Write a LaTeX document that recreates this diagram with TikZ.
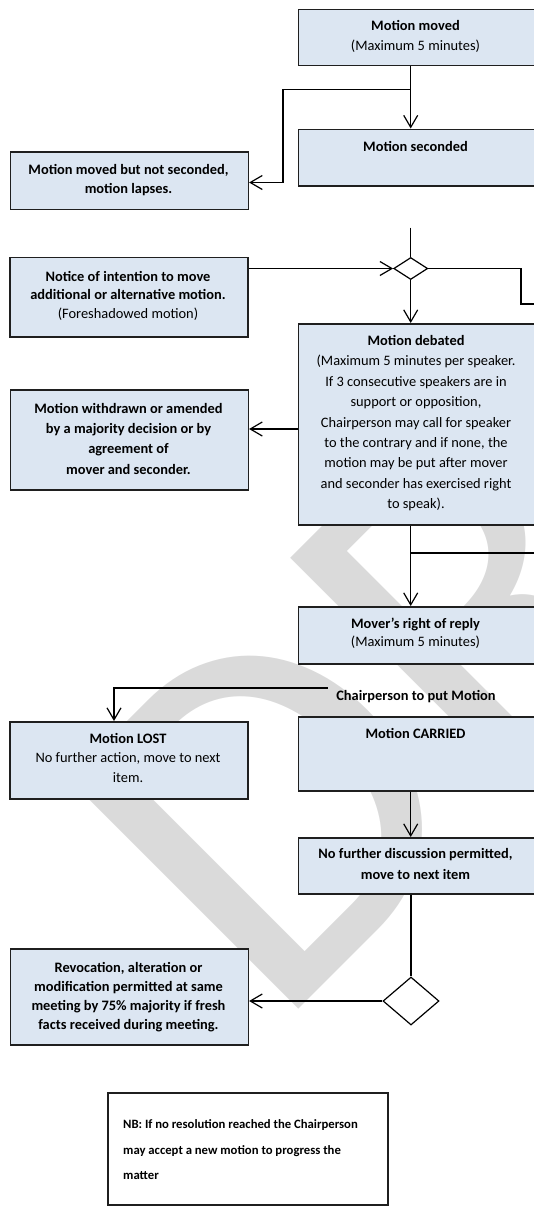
\documentclass[tikz,border=0pt]{standalone}
\usepackage{fontspec}
\setmainfont{Carlito}
\newfontfamily\wmfont{Carlito}
\usetikzlibrary{shapes.geometric,arrows.meta}
\definecolor{boxfill}{HTML}{DCE6F2}
\definecolor{boxline}{HTML}{1F1F1F}
\definecolor{wmgray}{HTML}{DADADA}
\tikzset{
  box/.style={draw=boxline, line width=1.6pt, fill=boxfill, inner sep=0pt, anchor=north west},
  notebox/.style={draw=boxline, line width=1.6pt, fill=white, inner sep=0pt, anchor=north west},
  txt/.style={inner sep=0pt, anchor=base, font=\fontsize{14.4}{19.8}\selectfont},
  conn/.style={line width=1.2pt, draw=black},
  arr/.style={conn, -{Straight Barb[length=12pt,width=14pt]}},
  decision/.style={diamond, draw=black, line width=1.2pt, fill=white, inner sep=0pt},
}
\begin{document}
\begin{tikzpicture}[x=1pt,y=-1pt]
\useasboundingbox (0,0) rectangle (534,1208);

% watermark
\begin{scope}
  \clip (0,0) rectangle (534,1208);
  \node[rotate=45, anchor=base west, inner sep=0pt, text=wmgray,
        font=\wmfont\fontsize{506}{506}\selectfont] (wm) at (274,1034) {DRAFT};
\end{scope}

% boxes
\node[box, minimum width=236, minimum height=56]   (moved)      at (297.5,8.5) {};
\node[box, minimum width=236, minimum height=56.5] (seconded)   at (297.5,128.5) {};
\node[box, minimum width=238, minimum height=57.5] (lapses)     at (9.5,151) {};
\node[box, minimum width=238, minimum height=79.5] (notice)     at (9,256.5) {};
\node[box, minimum width=236, minimum height=201]  (debated)    at (297.5,323) {};
\node[box, minimum width=238, minimum height=100]  (withdrawn)  at (9.5,389) {};
\node[box, minimum width=236, minimum height=57]   (mover)      at (297.5,606) {};
\node[box, minimum width=238, minimum height=77]   (lost)       at (9,721) {};
\node[box, minimum width=236, minimum height=74]   (carried)    at (297.5,716) {};
\node[box, minimum width=236, minimum height=56]   (nofurther)  at (297.5,837) {};
\node[box, minimum width=238, minimum height=96]   (revocation) at (9.5,948) {};
\node[notebox, minimum width=280, minimum height=112] (nb)      at (107,1092) {};

\node[decision, minimum width=34, minimum height=22] (d1) at (410.7,268.5) {};
\node[decision, minimum width=56, minimum height=48] (d2) at (411,1001) {};

% texts
\node[txt] (movedT) at (415.5,30.7) {\parbox[t]{212pt}{\centering\textbf{Motion moved}\\(Maximum 5 minutes)}};
\node[txt] (secondedT) at (415.5,151.5) {\textbf{Motion seconded}};
\node[txt] (lapsesT) at (128.5,174) {\parbox[t]{212pt}{\centering\bfseries Motion moved but not seconded,\\motion lapses.}};
\node[txt, font=\fontsize{14.4}{18.8}\selectfont] (noticeT) at (128,281) {\parbox[t]{212pt}{\centering\textbf{Notice of intention to move}\\\textbf{additional or alternative motion.}\\(Foreshadowed motion)}};
\node[txt, font=\fontsize{14.4}{20.4}\selectfont] (debatedT) at (416,345.5) {\parbox[t]{214pt}{\centering\textbf{Motion debated}\\(Maximum 5 minutes per speaker.\\If 3 consecutive speakers are in\\support or opposition,\\Chairperson may call for speaker\\to the contrary and if none, the\\motion may be put after mover\\and seconder has exercised right\\to speak).}};
\node[txt, font=\fontsize{14.4}{20.4}\selectfont] (withdrawnT) at (128.5,413) {\parbox[t]{212pt}{\centering\bfseries Motion withdrawn or amended\\by a majority decision or by\\agreement of\\mover and seconder.}};
\node[txt, font=\fontsize{14.4}{18}\selectfont] (moverT) at (415.5,628.5) {\parbox[t]{212pt}{\centering\textbf{Mover’s right of reply}\\(Maximum 5 minutes)}};
\node[txt, font=\fontsize{14.4}{19.8}\selectfont\bfseries] (chair) at (416,700.5) {Chairperson to put Motion};
\node[txt] (lostT) at (128,743) {\parbox[t]{212pt}{\centering\textbf{Motion LOST}\\No further action, move to next\\item.}};
\node[txt] (carriedT) at (415.5,738.3) {\textbf{Motion CARRIED}};
\node[txt, font=\fontsize{14.4}{20.6}\selectfont] (nofurtherT) at (415.5,858.5) {\parbox[t]{212pt}{\centering\bfseries No further discussion permitted,\\move to next item}};
\node[txt, font=\fontsize{14.4}{18.9}\selectfont] (revocationT) at (128.5,972.7) {\parbox[t]{214pt}{\centering\bfseries Revocation, alteration or\\modification permitted at same\\meeting by 75\% majority if fresh\\facts received during meeting.}};
\node[txt, anchor=base west, font=\fontsize{12.7}{25.5}\selectfont] (nbT) at (123,1128.7) {\parbox[t]{245pt}{\raggedright\bfseries NB: If no resolution reached the Chairperson\\may accept a new motion to progress the\\matter}};

% connectors
\coordinate (ax) at (410.7,0);
\draw[arr] (moved.south -| ax) -- (seconded.north -| ax);
\coordinate (split1) at (410.7,89.5);
\coordinate (bend1) at (283,182.5);
\draw[arr] (split1) -| (bend1) -- (lapses.east |- bend1);

\coordinate (top1) at (410.7,227.5);
\draw[conn] (top1) -- (d1.north);
\draw[arr] (notice.east |- d1.west) -- (d1.west);
\coordinate (turn1) at (521,304);
\coordinate (out1) at (534,304);
\draw[conn] (d1.east) -| (turn1) -- (out1);
\draw[arr] (d1.south) -- (debated.north -| d1.south);

\coordinate (wy) at (0,429);
\draw[arr] (debated.west |- wy) -- (withdrawn.east |- wy);
\draw[arr] (debated.south -| ax) -- (mover.north -| ax);
\coordinate (split2) at (410.7,553);
\coordinate (out2) at (534,553);
\draw[conn] (split2) -- (out2);

\coordinate (chairL) at (327.5,688);
\coordinate (lostx) at (114,0);
\draw[arr] (chairL) -| (lost.north -| lostx);

\draw[arr] (carried.south -| ax) -- (nofurther.north -| ax);
\draw[conn] (nofurther.south -| d2.north) -- (d2.north);
\draw[arr] (d2.west) -- (revocation.east |- d2.west);
\end{tikzpicture}
\end{document}
